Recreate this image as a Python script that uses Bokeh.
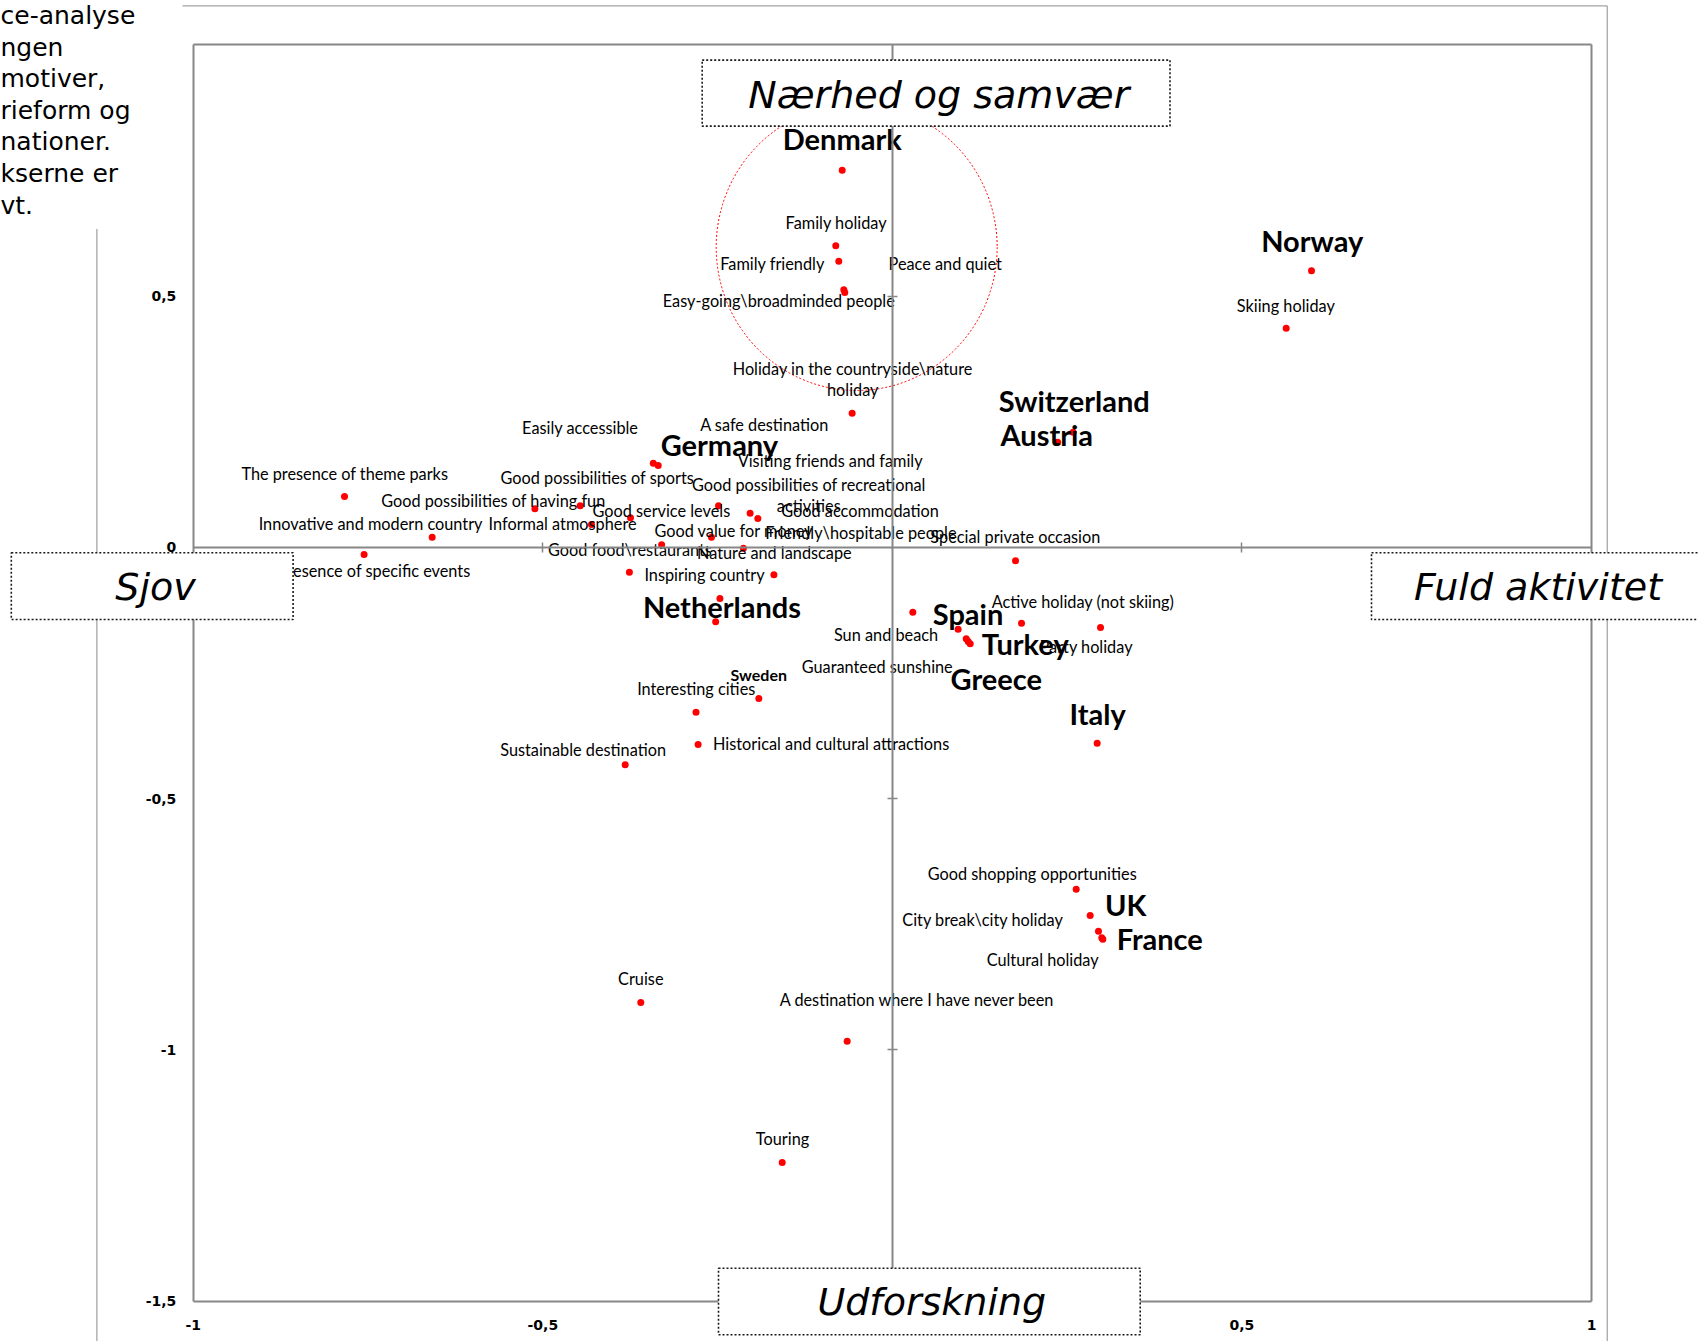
from bokeh.plotting import figure
from bokeh.models import ColumnDataSource, Range1d, LinearAxis, FixedTicker
from bokeh.core.properties import value
from bokeh.embed import file_html
from bokeh.resources import INLINE

# ---------------- data ----------------
countries = ["Denmark", "Norway", "Switzerland", "Austria", "Germany", "Netherlands",
             "Spain", "Turkey", "Greece", "Italy", "Sweden", "UK", "France"]
country_x = [-0.0718, 0.5995, 0.2585, 0.2364, -0.3350, -0.2528,
             0.0940, 0.1084, 0.1113, 0.2929, -0.1911, 0.2829, 0.3010]
country_y = [0.7506, 0.5504, 0.2293, 0.2094, 0.1630, -0.1481,
             -0.1626, -0.1873, -0.1918, -0.3897, -0.3007, -0.7325, -0.7797]

attributes = [
    "Family holiday", "Family friendly", "Peace and quiet",
    "Easy-going\\broadminded people", "Holiday in the countryside\\nature\nholiday",
    "Skiing holiday", "A safe destination", "Easily accessible",
    "Visiting friends and family", "The presence of theme parks",
    "Good possibilities of sports", "Good possibilities of recreational\nactivities",
    "Good possibilities of having fun", "Good service levels", "Good accommodation",
    "Innovative and modern country", "Informal atmosphere", "Good value for money",
    "Friendly\\hospitable people", "Special private occasion", "Good food\\restaurants",
    "Nature and landscape", "The presence of specific events", "Inspiring country",
    "Active holiday (not skiing)", "Sun and beach", "Party holiday",
    "Guaranteed sunshine", "Interesting cities", "Historical and cultural attractions",
    "Sustainable destination", "Good shopping opportunities", "City break\\city holiday",
    "Cultural holiday", "Cruise", "A destination where I have never been", "Touring",
]
attr_x = [-0.0810, -0.0767, -0.0695, -0.0681, -0.0576,
          0.5633, -0.2487, -0.3420, -0.2035, -0.7837,
          -0.4466, -0.1925, -0.5114, -0.3746, -0.2588,
          -0.6583, -0.4304, -0.3301, -0.2131, 0.1761,
          -0.3762, -0.1695, -0.7557, -0.2467, 0.1847,
          0.0292, 0.2977, 0.1056, -0.2809, -0.2779,
          -0.3822, 0.2629, 0.2948, 0.2995, -0.3599,
          -0.0647, -0.1576]
attr_y = [0.6002, 0.5696, 0.5126, 0.5073, 0.2671,
          0.4362, 0.0828, 0.1676, 0.0681, 0.1013,
          0.0828, 0.0575, 0.0768, 0.0589, 0.0203,
          0.0203, 0.0456, 0.0052, -0.0016, -0.0267,
          -0.0494, -0.0545, -0.0141, -0.1017, -0.1508,
          -0.1290, -0.1594, -0.1819, -0.3280, -0.3922,
          -0.4326, -0.6802, -0.7638, -0.7769, -0.9057,
          -0.9827, -1.2241]

x_ticks = [-1, -0.5, 0, 0.5, 1]
x_tick_labels = ["-1", "-0,5", "0", "0,5", "1"]
y_ticks = [-1.5, -1, -0.5, 0, 0.5]
y_tick_labels = ["-1,5", "-1", "-0,5", "0", "0,5"]

dimension_names = ["Nærhed og samvær", "Sjov", "Fuld aktivitet", "Udforskning"]

intro_lines = ["ce-analyse", "ngen", "motiver,", "rieform og", "nationer.", "kserne er", "vt."]

# ---------------- layout (pixels) ----------------
LABEL_SHIFT = -2.5
# label offsets from their point, screen pixels (y down)
country_dx = [0, 0.7, 1.1, -10.9, 61.2, 6.3, 9.9, 57, 26.1, 0.5, 0, 35.5, 56.9]
country_dy = [-29.4, -28, -28.8, -5, -18.3, -13, -13.6, 4, 36.7, -27.7, -21.3, -8.3, 1.3]
country_size = ["29px"] * 10 + ["16px"] + ["29px"] * 2

attr_dx = [0.5, -66.3, 101.4, -66, 0.6, -0.4, 46, -73.1, 80, 0.3,
           17.2, 51, -41.5, 30.8, 148.6, -61.6, -28.9, 72.2, 117.4, -0.2,
           0.5, 0.4, -5.3, -15.4, 61.5, -26.8, -14.3, -89, 0.2, 133,
           -42.1, -44, -115.5, -59.1, 0, 70, 0.3]
attr_dy = [-21.3, 5, -24.3, 10.3, -32, -20.4, -78.6, -32.7, -50, -21,
           -26.3, -21.3, -5.6, -5, -24.4, -11, 1, -11.6, -13.7, -22,
           -20, -20.3, 18.3, -21.3, -19, 25, 21.3, 30, -21, 1,
           -12.6, -13, -9, 24.4, -21.3, -39, -21.3]

FIG_W, FIG_H = 1698, 1341
FRAME_L, FRAME_R, FRAME_T, FRAME_B = 192.8, 1591.0, 44.4, 1300.7
X_LO, X_HI, Y_LO, Y_HI = -1.0, 1.0, -1.5, 1.0
SX = (FRAME_R - FRAME_L) / (X_HI - X_LO)
SY = (FRAME_B - FRAME_T) / (Y_HI - Y_LO)
x_start = X_LO - FRAME_L / SX
x_end = X_HI + (FIG_W - FRAME_R) / SX
y_end = Y_HI + FRAME_T / SY
y_start = Y_LO - (FIG_H - FRAME_B) / SY


def px2x(px):
    return x_start + px / SX


def py2y(py):
    return y_end - py / SY


AXIS_GREY = "#878787"
LABEL_FONT = value("Lato")

p = figure(width=FIG_W, height=FIG_H,
           x_range=Range1d(x_start, x_end), y_range=Range1d(y_start, y_end),
           x_axis_location=None, y_axis_location=None,
           toolbar_location=None, output_backend="svg",
           min_border=0, outline_line_color=None,
           background_fill_color="white", border_fill_color="white")
p.grid.visible = False


def make_axis(loc, bounds, ticks, labels=None, tick_len=0, standoff=0):
    ax = LinearAxis(fixed_location=loc, bounds=bounds,
                    ticker=FixedTicker(ticks=ticks, minor_ticks=[]))
    ax.axis_line_color = AXIS_GREY
    ax.axis_line_width = 2
    ax.major_tick_in = tick_len
    ax.major_tick_out = tick_len
    ax.major_tick_line_color = AXIS_GREY if tick_len else None
    ax.major_tick_line_width = 1.5
    ax.minor_tick_line_color = None
    if labels is None:
        ax.major_label_overrides = {t: "" for t in ticks}
    else:
        ax.major_label_overrides = dict(zip(ticks, labels))
    ax.major_label_text_font = "DejaVu Sans"
    ax.major_label_text_font_style = "bold"
    ax.major_label_text_font_size = "14px"
    ax.major_label_text_color = "black"
    ax.major_label_standoff = standoff
    return ax


# plot-area frame (drawn by axes)
p.add_layout(make_axis(Y_LO, (X_LO, X_HI), x_ticks, x_tick_labels, standoff=19), "below")
p.add_layout(make_axis(X_LO, (Y_LO, Y_HI), y_ticks, y_tick_labels, standoff=17), "left")
p.add_layout(make_axis(Y_HI, (X_LO, X_HI), []), "above")
p.add_layout(make_axis(X_HI, (Y_LO, Y_HI), []), "right")
# crossing axes through the origin
p.add_layout(make_axis(0, (X_LO, X_HI), [-0.5, 0.5], tick_len=5), "below")
p.add_layout(make_axis(0, (Y_LO, Y_HI), [-1, -0.5, 0.5], tick_len=5), "left")

# outer chart-area border
p.multi_line(xs=[[px2x(96.4), px2x(96.4)], [px2x(1606.7), px2x(1606.7)], [px2x(182), px2x(1606.7)]],
             ys=[[py2y(228.5), py2y(FIG_H)], [py2y(5.4), py2y(FIG_H)], [py2y(5.4), py2y(5.4)]],
             line_color="#8c8c8c", line_width=1)

# highlight circle around the Denmark cluster
HL_X, HL_Y, HL_RX, HL_RY = -0.0511, 0.5974, 140.5, 143.3
p.ellipse(x=[HL_X], y=[HL_Y], width=[2 * HL_RX / SX], height=[2 * HL_RY / SY],
          fill_color=None, line_color="red", line_dash="2 2", line_width=1)

# points
p.scatter(x=country_x + attr_x, y=country_y + attr_y, size=7,
          fill_color="#ff0000", line_color=None)

attr_src = ColumnDataSource(dict(x=attr_x, y=attr_y, label=attributes, dx=attr_dx,
                                 dy=[d + LABEL_SHIFT for d in attr_dy]))
p.text(x="x", y="y", text="label", x_offset="dx", y_offset="dy", source=attr_src,
       text_align="center", text_baseline="middle", text_font=LABEL_FONT,
       text_font_size="16.3px", text_color="black", text_line_height=1.12)

country_src = ColumnDataSource(dict(x=country_x, y=country_y, label=countries,
                                    dx=country_dx, dy=[d + LABEL_SHIFT for d in country_dy],
                                    size=country_size))
p.text(x="x", y="y", text="label", x_offset="dx", y_offset="dy", source=country_src,
       text_align="center", text_baseline="middle", text_font=LABEL_FONT,
       text_font_style="bold", text_font_size="size", text_color="black")

# dimension boxes
box_l = [701.7, 10.8, 1371.0, 718.0]
box_r = [1169.5, 292.6, 1720.0, 1139.7]
box_t = [59.6, 552.3, 552.3, 1267.7]
box_b = [125.6, 619.0, 619.0, 1334.3]
txt_cx = [938.3, 155.0, 1537.5, 931.3]
txt_cy = [94.0, 586.0, 586.0, 1301.0]
p.quad(left=[px2x(v) for v in box_l], right=[px2x(v) for v in box_r],
       top=[py2y(v) for v in box_t], bottom=[py2y(v) for v in box_b],
       fill_color="white", line_color="#1a1a1a", line_dash="2 2", line_width=1.6,
       level="overlay")
p.text(x=[px2x(v) for v in txt_cx], y=[py2y(v) for v in txt_cy], text=dimension_names,
       text_align="center", text_baseline="middle", text_font=value("DejaVu Sans"),
       text_font_style="italic", text_font_size="38px", text_color="black",
       level="overlay")

# cut-off description text at top left
p.text(x=[px2x(0)] * len(intro_lines), y=[py2y(15 + 31.6 * i) for i in range(len(intro_lines))],
       text=intro_lines, text_align="left", text_baseline="middle",
       text_font=value("DejaVu Sans"), text_font_size="25px", text_color="black",
       level="overlay")

open("out.html", "w").write(file_html(p, INLINE))
